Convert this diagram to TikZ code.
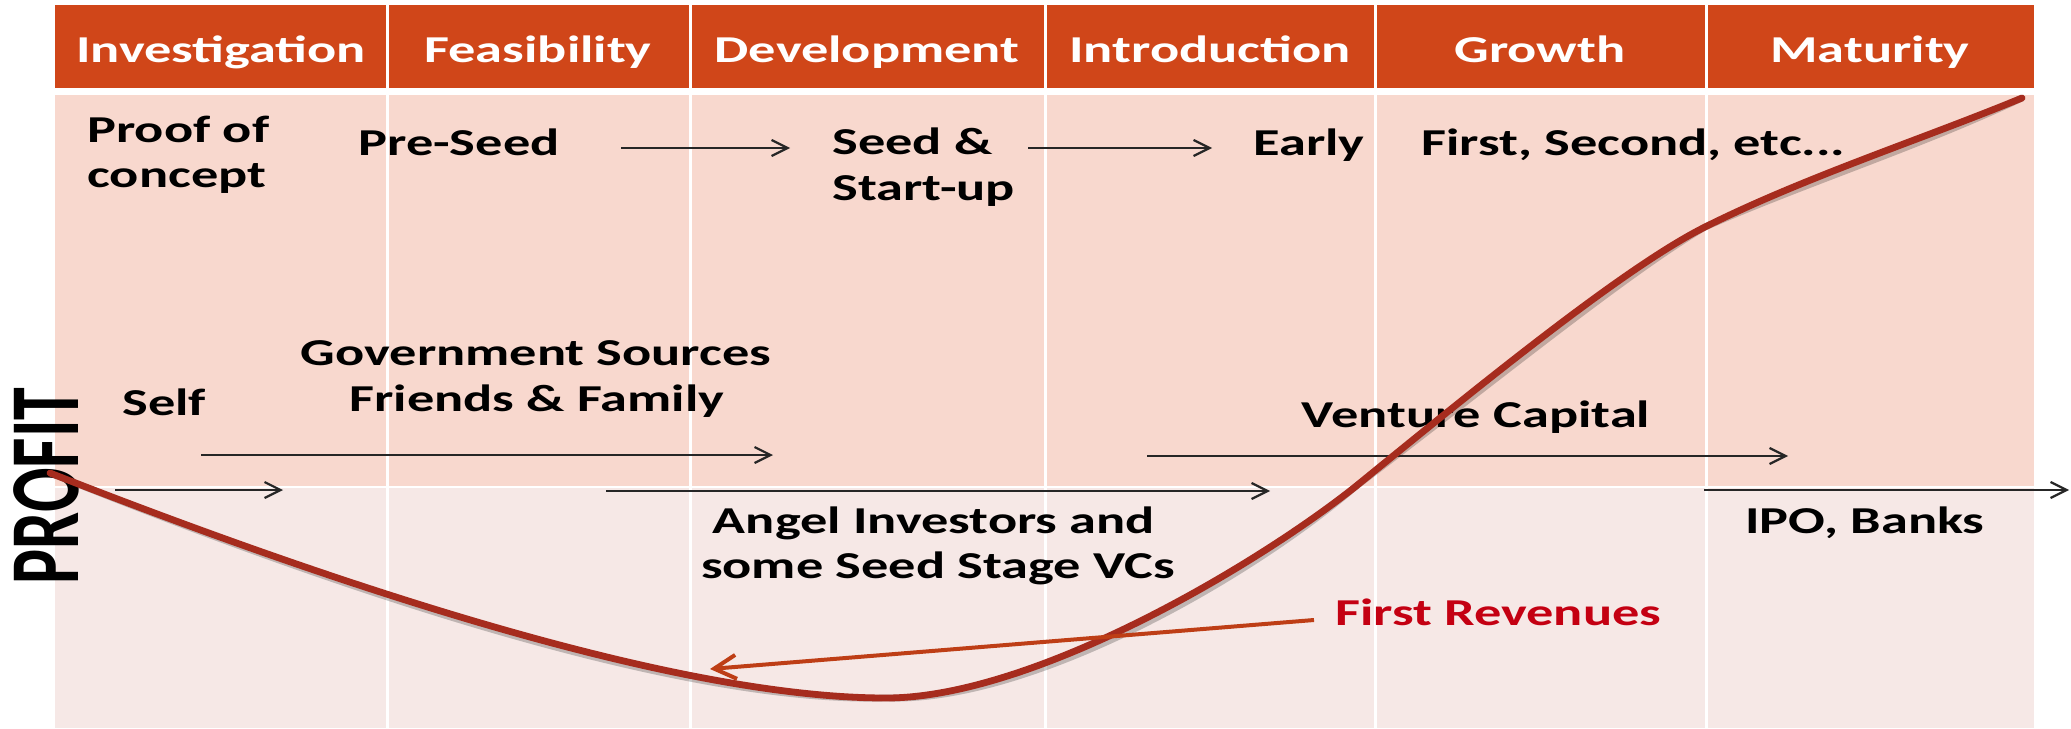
\documentclass[tikz,border=0pt]{standalone}
\usepackage{fontspec}
\newfontfamily\calw{Carlito}[FakeStretch=1.43]
\newfontfamily\caln{Carlito}
\usetikzlibrary{arrows.meta}
\definecolor{hdr}{RGB}{208,70,25}
\definecolor{upperband}{RGB}{248,216,206}
\definecolor{lowerband}{RGB}{246,232,230}
\definecolor{curvec}{RGB}{166,44,30}
\definecolor{revarrow}{RGB}{190,62,22}
\definecolor{revtext}{RGB}{196,0,18}
\begin{document}
\begin{tikzpicture}[x=0.5pt,y=-0.5pt,
  lbl/.style={font=\calw\bfseries\fontsize{19}{22}\selectfont, inner sep=0pt, text=black},
  hlbl/.style={lbl, text=white, anchor=base},
  blbl/.style={lbl, anchor=base west},
  clbl/.style={lbl, anchor=base},
  arr/.style={-{Straight Barb[length=8pt,width=8pt]}, line width=1.1pt, draw=black!85},
  shadowline/.style={draw=black, opacity=0.22},
  divider/.style={white, line width=1.5pt},
  profitcurve/.style={line width=3.4pt, line cap=round}]
\useasboundingbox (0,0) rectangle (2071,728);
\fill[white] (0,0) rectangle (2071,728);
% table
\fill[hdr] (55,5) rectangle (2034,88);
\fill[upperband] (55,95) rectangle (2034,487);
\fill[lowerband] (55,487) rectangle (2034,728);
\draw[white, line width=1pt] (55,487) -- (2034,487);
\foreach \x in {387,690,1045,1375,1706}
  \draw[divider] (\x,5) -- (\x,88) (\x,95) -- (\x,728);
% header labels
\node[hlbl] (h1) at (221,62) {Investigation};
\node[hlbl] (h2) at (538,62) {Feasibility};
\node[hlbl] (h3) at (867,62) {Development};
\node[hlbl] (h4) at (1210,62) {Introduction};
\node[hlbl] (h5) at (1540,62) {Growth};
\node[hlbl] (h6) at (1870,62) {Maturity};
% stage labels
\node[blbl] (poc1) at (87,142) {Proof of};
\node[blbl] (poc2) at (87,187) {concept};
\node[blbl] (pre) at (358,155) {Pre-Seed};
\node[blbl] (seed1) at (832,154) {Seed \&};
\node[blbl] (seed2) at (832,200) {Start-up};
\node[blbl] (early) at (1253,155) {Early};
\node[blbl] (first) at (1421,155) {First, Second, etc...};
% funding labels
\node[blbl] (self) at (122,415) {Self};
\node[clbl] (gov) at (536,365) {Government Sources};
\node[clbl] (fam) at (537,411) {Friends \& Family};
\node[clbl] (vc) at (1476,427) {Venture Capital};
\node[clbl] (ang1) at (934,533) {Angel Investors and};
\node[clbl] (ang2) at (938,578) {some Seed Stage VCs};
\node[blbl] (ipo) at (1745,533) {IPO, Banks};
\node[blbl, text=revtext] (rev) at (1335,625) {First Revenues};
% PROFIT
\node[rotate=90, inner sep=0pt, font=\caln\bfseries\fontsize{33}{33}\selectfont] (profit) at (46,486) {\scalebox{1}[1.5]{PROFIT}};
% arrow end points
\coordinate (a1s) at (621,148);   \coordinate (a1e) at (790,148);
\coordinate (a2s) at (1028,148);  \coordinate (a2e) at (1212,148);
\coordinate (gs)  at (201,455);   \coordinate (ge)  at (773,455);
\coordinate (ss)  at (115,490);   \coordinate (se)  at (283,490);
\coordinate (as)  at (606,491);   \coordinate (ae)  at (1270,491);
\coordinate (vs)  at (1147,456);  \coordinate (ve)  at (1788,456);
\coordinate (is)  at (1704,490);  \coordinate (ie)  at (2069,490);
\coordinate (rs)  at (1314,620);  \coordinate (re)  at (710,669);
% curve key points
\coordinate (c0) at (50,473);
\coordinate (c1) at (886,698);
\coordinate (c2) at (1355,487);
\coordinate (c3) at (1705,227);
\coordinate (c4) at (2022,98);
\def\profitpath{(c0) .. controls (400,610) and (700,698) .. (c1)
  .. controls (1030,698) and (1250,570) .. (c2)
  .. controls (1480,385) and (1625,267) .. (c3)
  .. controls (1805,177) and (1920,140) .. (c4)}
% curve shadow
\draw[shadowline, profitcurve, shift={(3,5)}] \profitpath;
% arrows
\foreach \s/\e in {a1s/a1e,a2s/a2e,gs/ge,ss/se,as/ae,vs/ve,is/ie}
  \draw[arr] (\s) -- (\e);
% curve
\draw[curvec, profitcurve] \profitpath;
\draw[revarrow, line width=2pt, -{Straight Barb[length=11pt,width=12pt]}] (rs) -- (re);
\end{tikzpicture}
\end{document}
